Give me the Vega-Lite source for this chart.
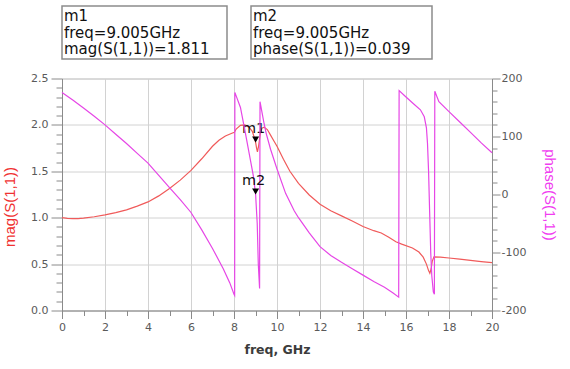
{
  "$schema": "https://vega.github.io/schema/vega-lite/v6.json",
  "background": "white",
  "padding": {"left": 1, "top": 5, "right": 0, "bottom": 0},
  "config": {"font": "DejaVu Sans"},
  "datasets": {
    "mag": [
      {"freq": 0, "mag": 1.0}, {"freq": 0.25, "mag": 0.993}, {"freq": 0.5, "mag": 0.99}, {"freq": 0.75, "mag": 0.99},
      {"freq": 1.0, "mag": 0.995}, {"freq": 1.5, "mag": 1.01}, {"freq": 2.0, "mag": 1.03}, {"freq": 2.5, "mag": 1.055},
      {"freq": 3.0, "mag": 1.085}, {"freq": 3.5, "mag": 1.125}, {"freq": 4.0, "mag": 1.17}, {"freq": 4.5, "mag": 1.235},
      {"freq": 5.0, "mag": 1.315}, {"freq": 5.5, "mag": 1.405}, {"freq": 6.0, "mag": 1.51}, {"freq": 6.5, "mag": 1.635},
      {"freq": 7.0, "mag": 1.77}, {"freq": 7.3, "mag": 1.835}, {"freq": 7.6, "mag": 1.88}, {"freq": 7.9, "mag": 1.91},
      {"freq": 8.02, "mag": 1.92}, {"freq": 8.1, "mag": 1.955}, {"freq": 8.3, "mag": 1.995}, {"freq": 8.5, "mag": 2.0},
      {"freq": 8.7, "mag": 1.975}, {"freq": 8.85, "mag": 1.93}, {"freq": 8.95, "mag": 1.86}, {"freq": 9.005, "mag": 1.811},
      {"freq": 9.05, "mag": 1.75}, {"freq": 9.09, "mag": 1.71}, {"freq": 9.15, "mag": 1.78}, {"freq": 9.22, "mag": 1.9},
      {"freq": 9.3, "mag": 1.965}, {"freq": 9.4, "mag": 1.975}, {"freq": 9.55, "mag": 1.95}, {"freq": 9.7, "mag": 1.89},
      {"freq": 9.85, "mag": 1.83}, {"freq": 10.0, "mag": 1.77}, {"freq": 10.3, "mag": 1.63}, {"freq": 10.6, "mag": 1.5},
      {"freq": 11.0, "mag": 1.37}, {"freq": 11.5, "mag": 1.245}, {"freq": 12.0, "mag": 1.145}, {"freq": 12.5, "mag": 1.075},
      {"freq": 13.0, "mag": 1.02}, {"freq": 13.5, "mag": 0.965}, {"freq": 14.0, "mag": 0.905}, {"freq": 14.5, "mag": 0.86},
      {"freq": 14.85, "mag": 0.835}, {"freq": 15.2, "mag": 0.79}, {"freq": 15.53, "mag": 0.74}, {"freq": 15.8, "mag": 0.715},
      {"freq": 16.3, "mag": 0.673}, {"freq": 16.6, "mag": 0.63}, {"freq": 16.8, "mag": 0.575}, {"freq": 16.95, "mag": 0.5},
      {"freq": 17.05, "mag": 0.43}, {"freq": 17.11, "mag": 0.4}, {"freq": 17.17, "mag": 0.45}, {"freq": 17.22, "mag": 0.53},
      {"freq": 17.3, "mag": 0.578}, {"freq": 17.6, "mag": 0.575}, {"freq": 18.0, "mag": 0.566}, {"freq": 18.5, "mag": 0.553},
      {"freq": 19.0, "mag": 0.54}, {"freq": 19.5, "mag": 0.527}, {"freq": 20.0, "mag": 0.515}
    ],
    "phase": [
      {"freq": 0, "phase": 176}, {"freq": 0.5, "phase": 163}, {"freq": 1.0, "phase": 149}, {"freq": 1.5, "phase": 135},
      {"freq": 2.0, "phase": 120}, {"freq": 2.5, "phase": 104}, {"freq": 3.0, "phase": 88}, {"freq": 3.5, "phase": 71},
      {"freq": 4.0, "phase": 54}, {"freq": 4.5, "phase": 33}, {"freq": 5.0, "phase": 12}, {"freq": 5.5, "phase": -9},
      {"freq": 6.0, "phase": -31}, {"freq": 6.5, "phase": -61}, {"freq": 7.0, "phase": -93}, {"freq": 7.5, "phase": -128},
      {"freq": 7.8, "phase": -152}, {"freq": 8.0, "phase": -172}, {"freq": 8.03, "phase": -174}, {"freq": 8.04, "phase": 176},
      {"freq": 8.1, "phase": 170}, {"freq": 8.3, "phase": 150}, {"freq": 8.53, "phase": 106}, {"freq": 8.77, "phase": 58},
      {"freq": 8.9, "phase": 32}, {"freq": 9.005, "phase": 0.039}, {"freq": 9.08, "phase": -50}, {"freq": 9.13, "phase": -120},
      {"freq": 9.19, "phase": -162}, {"freq": 9.21, "phase": 160}, {"freq": 9.3, "phase": 142}, {"freq": 9.4, "phase": 122},
      {"freq": 9.5, "phase": 105}, {"freq": 9.7, "phase": 78}, {"freq": 10.0, "phase": 44}, {"freq": 10.4, "phase": 2},
      {"freq": 10.8, "phase": -28}, {"freq": 11.0, "phase": -40}, {"freq": 11.5, "phase": -66}, {"freq": 12.0, "phase": -90},
      {"freq": 12.5, "phase": -105}, {"freq": 13.0, "phase": -117}, {"freq": 13.5, "phase": -128}, {"freq": 14.0, "phase": -139},
      {"freq": 14.5, "phase": -150}, {"freq": 15.0, "phase": -160}, {"freq": 15.4, "phase": -170}, {"freq": 15.66, "phase": -177},
      {"freq": 15.68, "phase": 179}, {"freq": 16.0, "phase": 168}, {"freq": 16.36, "phase": 156}, {"freq": 16.67, "phase": 146},
      {"freq": 16.85, "phase": 134}, {"freq": 16.95, "phase": 115}, {"freq": 17.0, "phase": 88}, {"freq": 17.05, "phase": 40},
      {"freq": 17.1, "phase": -30}, {"freq": 17.15, "phase": -100}, {"freq": 17.2, "phase": -140}, {"freq": 17.27, "phase": -168},
      {"freq": 17.32, "phase": -172}, {"freq": 17.34, "phase": 178}, {"freq": 17.53, "phase": 160}, {"freq": 18.0, "phase": 143},
      {"freq": 18.5, "phase": 125}, {"freq": 19.0, "phase": 107}, {"freq": 19.5, "phase": 89}, {"freq": 20.0, "phase": 72}
    ],
    "markers": [
      {"marker": "m1", "freq": 9.005, "mag": 1.811},
      {"marker": "m2", "freq": 9.005, "phase": 0.039}
    ]
  },
  "spacing": 11.5,
  "vconcat": [
    {
      "spacing": 22,
      "hconcat": [
        {
          "width": 165,
          "height": 53,
          "view": {"stroke": "#8c8c8c", "strokeWidth": 1.5},
          "data": {"name": "markers"},
          "transform": [
            {"filter": "datum.marker === 'm1'"},
            {"calculate": "datum.marker", "as": "l0"},
            {"calculate": "'freq=' + format(datum.freq, '.3f') + 'GHz'", "as": "l1"},
            {"calculate": "'mag(S(1,1))=' + format(datum.mag, '.3f')", "as": "l2"},
            {"fold": ["l0", "l1", "l2"], "as": ["line", "readout"]}
          ],
          "mark": {"type": "text", "align": "left", "baseline": "middle", "fontSize": 15, "color": "#111111"},
          "encoding": {
            "x": {"value": 2},
            "y": {"field": "line", "type": "ordinal", "axis": null, "scale": {"type": "point", "padding": 0.6}},
            "text": {"field": "readout"}
          }
        },
        {
          "width": 181,
          "height": 53,
          "view": {"stroke": "#8c8c8c", "strokeWidth": 1.5},
          "data": {"name": "markers"},
          "transform": [
            {"filter": "datum.marker === 'm2'"},
            {"calculate": "datum.marker", "as": "l0"},
            {"calculate": "'freq=' + format(datum.freq, '.3f') + 'GHz'", "as": "l1"},
            {"calculate": "'phase(S(1,1))=' + format(datum.phase, '.3f')", "as": "l2"},
            {"fold": ["l0", "l1", "l2"], "as": ["line", "readout"]}
          ],
          "mark": {"type": "text", "align": "left", "baseline": "middle", "fontSize": 15, "color": "#111111"},
          "encoding": {
            "x": {"value": 2},
            "y": {"field": "line", "type": "ordinal", "axis": null, "scale": {"type": "point", "padding": 0.6}},
            "text": {"field": "readout"}
          }
        }
      ]
    },
    {
      "width": 430,
      "height": 232,
      "view": {"stroke": "#c4c4c4"},
      "encoding": {
        "x": {
          "field": "freq",
          "type": "quantitative",
          "scale": {"domain": [0, 20], "nice": false},
          "axis": {
            "title": "freq, GHz",
            "values": [0, 1, 2, 3, 4, 5, 6, 7, 8, 9, 10, 11, 12, 13, 14, 15, 16, 17, 18, 19, 20],
            "labelExpr": "datum.value % 2 === 0 ? datum.label : ''",
            "labelFlush": false,
            "labelOverlap": false,
            "labelFontSize": 11,
            "labelColor": "#5a5a5a",
            "labelPadding": 3,
            "tickSize": {"condition": {"test": "datum.value % 2 === 0", "value": 8}, "value": 5},
            "tickColor": "#8a8a8a",
            "domainColor": "#8a8a8a",
            "grid": true,
            "gridColor": "#d2d2d2",
            "gridOpacity": {"condition": {"test": "datum.value % 2 === 0", "value": 1}, "value": 0},
            "titleFont": "DejaVu Sans",
            "titleFontSize": 12.5,
            "titleFontWeight": "bold",
            "titleColor": "#3c3c3c",
            "titlePadding": 11
          }
        }
      },
      "layer": [
        {
          "encoding": {
            "y": {
              "field": "mag",
              "type": "quantitative",
              "scale": {"domain": [0, 2.5], "nice": false, "zero": false},
              "axis": {
                "title": "mag(S(1,1))",
                "values": [0, 0.1, 0.2, 0.3, 0.4, 0.5, 0.6, 0.7, 0.8, 0.9, 1.0, 1.1, 1.2, 1.3, 1.4, 1.5, 1.6, 1.7, 1.8, 1.9, 2.0, 2.1, 2.2, 2.3, 2.4, 2.5],
                "labelExpr": "abs(datum.value * 2 - round(datum.value * 2)) < 0.001 ? format(datum.value, '.1f') : ''",
                "labelOverlap": false,
                "labelFlush": false,
                "labelFontSize": 11,
                "labelColor": "#5a5a5a",
                "labelPadding": 3,
                "tickSize": {"condition": {"test": "abs(datum.value * 2 - round(datum.value * 2)) < 0.001", "value": 11}, "value": 6},
                "tickColor": "#8a8a8a",
                "domainColor": "#8a8a8a",
                "grid": true,
                "gridColor": "#d2d2d2",
                "gridOpacity": {"condition": {"test": "abs(datum.value * 2 - round(datum.value * 2)) < 0.001", "value": 1}, "value": 0},
                "minExtent": 30,
                "maxExtent": 30,
                "titleFont": "Liberation Sans",
                "titleFontSize": 15,
                "titleFontWeight": "normal",
                "titleColor": "#f03232",
                "titlePadding": 15,
                "titleY": 128
              }
            }
          },
          "layer": [
            {
              "data": {"name": "mag"},
              "mark": {"type": "line", "color": "#f05a5a", "strokeWidth": 1.2}
            },
            {
              "data": {"name": "markers"},
              "transform": [{"filter": "datum.marker === 'm1'"}],
              "mark": {"type": "point", "shape": "M-1,-1.7L1,-1.7L0,0Z", "filled": true, "color": "#000000", "opacity": 1, "size": 49}
            },
            {
              "data": {"name": "markers"},
              "transform": [{"filter": "datum.marker === 'm1'"}],
              "mark": {"type": "text", "align": "center", "baseline": "alphabetic", "dx": -2, "dy": -9.5, "fontSize": 14.5, "color": "#111111"},
              "encoding": {"text": {"field": "marker"}}
            }
          ]
        },
        {
          "encoding": {
            "y": {
              "field": "phase",
              "type": "quantitative",
              "scale": {"domain": [-200, 200], "nice": false, "zero": false},
              "axis": {
                "title": "phase(S(1,1))",
                "orient": "right",
                "values": [-200, -180, -160, -140, -120, -100, -80, -60, -40, -20, 0, 20, 40, 60, 80, 100, 120, 140, 160, 180, 200],
                "labelExpr": "datum.value % 100 === 0 ? (datum.value < 0 ? '-' + abs(datum.value) : '' + datum.value) : ''",
                "labelOverlap": false,
                "labelFlush": false,
                "labelFontSize": 11,
                "labelColor": "#5a5a5a",
                "labelPadding": 1,
                "tickSize": {"condition": {"test": "datum.value % 100 === 0", "value": 8}, "value": 5},
                "tickColor": "#8a8a8a",
                "domainColor": "#8a8a8a",
                "grid": false,
                "minExtent": 34,
                "maxExtent": 34,
                "titleFont": "Liberation Sans",
                "titleFontSize": 15,
                "titleFontWeight": "normal",
                "titleColor": "#f03cf0",
                "titlePadding": 15
              }
            }
          },
          "layer": [
            {
              "data": {"name": "phase"},
              "mark": {"type": "line", "color": "#e646e6", "strokeWidth": 1.2}
            },
            {
              "data": {"name": "markers"},
              "transform": [{"filter": "datum.marker === 'm2'"}],
              "mark": {"type": "point", "shape": "M-1,-1.7L1,-1.7L0,0Z", "filled": true, "color": "#000000", "opacity": 1, "size": 49}
            },
            {
              "data": {"name": "markers"},
              "transform": [{"filter": "datum.marker === 'm2'"}],
              "mark": {"type": "text", "align": "center", "baseline": "alphabetic", "dx": -2, "dy": -9.5, "fontSize": 14.5, "color": "#111111"},
              "encoding": {"text": {"field": "marker"}}
            }
          ]
        }
      ],
      "resolve": {"scale": {"y": "independent"}}
    }
  ]
}
